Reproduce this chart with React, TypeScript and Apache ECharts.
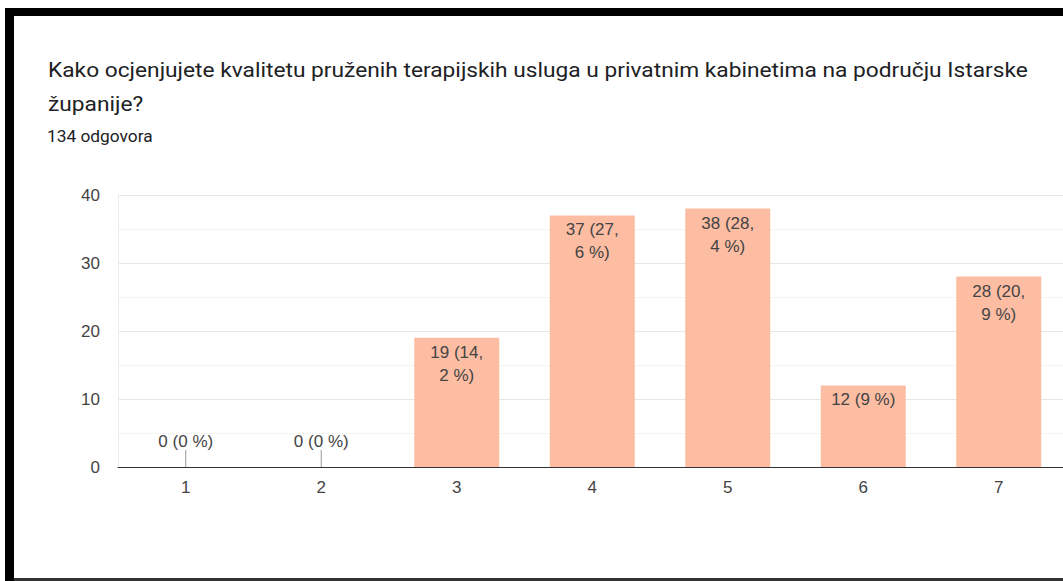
import React, { useEffect, useRef } from "react";
import * as echarts from "echarts";

const titleLine1 =
  "Kako ocjenjujete kvalitetu pruženih terapijskih usluga u privatnim kabinetima na području Istarske";
const titleLine2 = "županije?";
const subtitle = "134 odgovora";
const categories = ["1", "2", "3", "4", "5", "6", "7"];
const counts = [0, 0, 19, 37, 38, 12, 28];
const total = 134;
const yTicks = [0, 10, 20, 30, 40];

function pctLabel(v: number): string {
  const p = Math.round((v / total) * 1000) / 10;
  const s = String(p).replace(".", ",");
  if (s.indexOf(",") >= 0) {
    const [a, b] = s.split(",");
    return `${v} (${a},\n${b} %)`;
  }
  return `${v} (${s} %)`;
}

const CHART_FONT = "'Liberation Sans', Arial, sans-serif";
const LABEL_COLOR = "#444";
const TEXT_STRETCH = 1.083;
const CANVAS_W = 1072;

export default function App() {
  const ref = useRef<HTMLDivElement>(null);
  useEffect(() => {
    if (!ref.current) return;
    const chart = echarts.init(ref.current, undefined, { renderer: "svg" });
    const barData = counts.map((v) => ({
      value: v,
      label: { show: v > 0, formatter: pctLabel(v) },
    }));
    const zeroData = counts
      .map((v, i) => (v === 0 ? [i, v] : null))
      .filter((d) => d !== null);
    chart.setOption({
      animation: false,
      backgroundColor: "#fff",
      grid: { left: 118, top: 195, right: CANVAS_W - 1066.5, bottom: 114, containLabel: false },
      graphic: [
        { type: "rect", shape: { x: 5, y: 8, width: CANVAS_W, height: 8 }, style: { fill: "#000" } },
        { type: "rect", shape: { x: 5, y: 8, width: 9, height: 573 }, style: { fill: "#000" } },
        { type: "rect", shape: { x: 14, y: 578, width: CANVAS_W, height: 3 }, style: { fill: "#333" } },
        {
          type: "text",
          x: 48,
          y: 70,
          scaleX: TEXT_STRETCH,
          style: {
            text: titleLine1,
            font: "21px Roboto",
            fill: "#202124",
            verticalAlign: "middle",
          },
        },
        {
          type: "text",
          x: 48,
          y: 104,
          scaleX: TEXT_STRETCH,
          style: {
            text: titleLine2,
            font: "21px Roboto",
            fill: "#202124",
            verticalAlign: "middle",
          },
        },
        {
          type: "text",
          x: 47,
          y: 137,
          scaleX: TEXT_STRETCH,
          style: {
            text: subtitle,
            font: "16px Roboto",
            fill: "#202124",
            verticalAlign: "middle",
          },
        },
      ],
      xAxis: {
        type: "category",
        data: categories,
        axisLine: { show: true, lineStyle: { color: "#333", width: 1 } },
        axisTick: { show: false },
        axisLabel: { color: LABEL_COLOR, fontSize: 17, fontFamily: CHART_FONT, margin: 12 },
        splitLine: { show: false },
      },
      yAxis: {
        type: "value",
        min: 0,
        max: yTicks[yTicks.length - 1],
        interval: 10,
        axisLine: { show: true, lineStyle: { color: "#ececec" } },
        axisTick: { show: false },
        axisLabel: { color: LABEL_COLOR, fontSize: 17, fontFamily: CHART_FONT, margin: 18 },
        splitLine: { show: true, lineStyle: { color: "#e6e6e6", width: 1 } },
        minorTick: { show: false, splitNumber: 2 },
        minorSplitLine: { show: true, lineStyle: { color: "#f3f3f3", width: 1 } },
      },
      series: [
        {
          type: "bar",
          data: barData,
          barWidth: 85,
          itemStyle: { color: "#fcbda3" },
          label: {
            position: "insideTop",
            distance: 3,
            color: LABEL_COLOR,
            fontSize: 17,
            lineHeight: 23,
            fontFamily: CHART_FONT,
            align: "center",
          },
          z: 2,
        },
        {
          type: "custom",
          data: zeroData,
          renderItem: (params: any, api: any) => {
            const idx = api.value(0);
            const p = api.coord([idx, 0]);
            return {
              type: "group",
              children: [
                {
                  type: "line",
                  shape: { x1: p[0], y1: p[1] - 17, x2: p[0], y2: p[1] },
                  style: { stroke: "#999", lineWidth: 1 },
                },
                {
                  type: "text",
                  x: p[0],
                  y: p[1] - 26,
                  style: {
                    text: pctLabel(counts[idx]),
                    align: "center",
                    verticalAlign: "middle",
                    fill: LABEL_COLOR,
                    font: `17px ${CHART_FONT}`,
                  },
                },
              ],
            };
          },
          z: 3,
        },
      ],
    });
    return () => chart.dispose();
  }, []);
  return (
    <div
      ref={ref}
      style={{ position: "fixed", left: 0, top: 0, width: CANVAS_W, height: 581 }}
    />
  );
}
